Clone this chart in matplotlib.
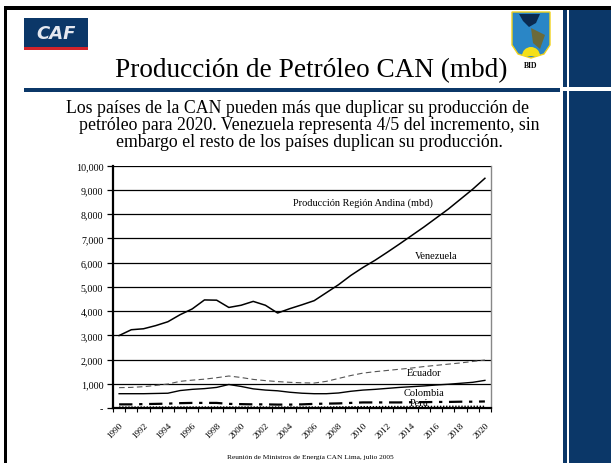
import matplotlib
matplotlib.use("Agg")
import matplotlib.pyplot as plt
from matplotlib.patches import Rectangle, Polygon, Wedge
from matplotlib.ticker import FuncFormatter
import matplotlib.transforms as mtransforms
import numpy as np

plt.rcParams['font.family'] = ['Liberation Serif', 'DejaVu Serif']

years = list(range(1990, 2021))
region_total = [2990, 3230, 3270, 3400, 3560, 3850, 4090, 4460, 4450, 4150, 4240,
                4400, 4240, 3920, 4100, 4260, 4430, 4760, 5090, 5470, 5800,
                6100, 6430, 6770, 7120, 7470, 7840, 8210, 8620, 9030, 9480]
ecuador = [840, 850, 880, 930, 990, 1100, 1150, 1190, 1250, 1320, 1260,
           1180, 1130, 1090, 1060, 1040, 1030, 1100, 1220, 1340, 1440,
           1500, 1550, 1600, 1650, 1710, 1760, 1810, 1860, 1920, 1980]
colombia = [590, 590, 590, 600, 610, 720, 770, 800, 850, 970, 890,
            790, 740, 710, 650, 610, 590, 590, 620, 690, 740,
            770, 810, 850, 880, 910, 950, 980, 1020, 1060, 1140]
peru = [150, 150, 160, 170, 180, 200, 210, 210, 210, 170, 160,
        150, 150, 140, 140, 150, 170, 180, 190, 210, 230,
        230, 230, 230, 240, 240, 250, 250, 260, 260, 270]
bolivia = [40, 40, 40, 40, 40, 40, 40, 40, 40, 40, 40,
           40, 40, 40, 40, 40, 40, 40, 45, 50, 55,
           55, 60, 60, 60, 65, 65, 70, 70, 70, 70]
y_ticks = [0, 1000, 2000, 3000, 4000, 5000, 6000, 7000, 8000, 9000, 10000]

title = "Producción de Petróleo CAN (mbd)"
subtitle_lines = ["Los países de la CAN pueden más que duplicar su producción de",
                  "petróleo para 2020. Venezuela representa 4/5 del incremento, sin",
                  "embargo el resto de los países duplican su producción."]
footer = "Reunión de Ministros de Energía CAN Lima, julio 2005"

W, H = 611, 464
NAVY = '#0b3768'
fig = plt.figure(figsize=(W / 100, H / 100), dpi=100)
fig.patch.set_facecolor('white')

# background "slide" axes in pixel coordinates
bg = fig.add_axes([0, 0, 1, 1], zorder=0)
bg.set_xlim(0, W)
bg.set_ylim(H, 0)
bg.axis('off')

def rect(x0, y0, x1, y1, color, z=1):
    bg.add_patch(Rectangle((x0, y0), x1 - x0, y1 - y0, facecolor=color,
                           edgecolor='none', zorder=z))

# frame
rect(4, 7, W, 11, 'black')
rect(4, 7, 7, H, 'black')
# right panel and vertical rule
rect(569, 11, W, H, NAVY)
rect(563, 11, 567, H, NAVY)
rect(563, 88, W, 92, 'white', z=2)
# horizontal rule under the title
rect(24, 89, 560, 93, NAVY)
# CAF logo
rect(24, 19, 88, 48, NAVY)
rect(24, 48, 88, 51, '#d2232a')
bg.text(56, 34, "CAF", color='#e4e8f0', fontsize=13, fontweight='bold',
        fontstyle='italic', family=['DejaVu Sans'], ha='center', va='center', zorder=3)
# BID logo (simplified shield)
shield = Polygon([(512, 13), (550, 13), (550, 46), (544, 55), (531, 59), (518, 55), (512, 46)],
                 closed=True, facecolor='#2a86c6', edgecolor='#f2d21b', lw=1.0, zorder=3)
bg.add_patch(shield)
bg.add_patch(Wedge((531, 57), 9, 180, 360, facecolor='#f5e01a', edgecolor='none', zorder=4))
bg.add_patch(Polygon([(519, 15), (540, 15), (536, 24), (529, 28), (523, 22)],
                     closed=True, facecolor='#0a2a50', edgecolor='none', zorder=4))
bg.add_patch(Polygon([(531, 29), (545, 36), (540, 50), (533, 44)],
                     closed=True, facecolor='#6b6a3a', edgecolor='none', zorder=4))
bg.text(531, 66, "BID", fontsize=5.5, fontweight='bold', ha='center', va='center', zorder=3)

# titles
bg.text(311, 77, title, fontsize=19.6, ha='center', va='baseline', color='black', zorder=3)
bg.text(297, 112.7, subtitle_lines[0], fontsize=12.8, ha='center', va='baseline', zorder=3)
bg.text(309, 129.8, subtitle_lines[1], fontsize=12.8, ha='center', va='baseline', zorder=3)
bg.text(309, 146.8, subtitle_lines[2], fontsize=12.8, ha='center', va='baseline', zorder=3)
bg.text(310, 458, footer, fontsize=5.3, ha='center', va='center', zorder=3)

# chart axes
left, right = 113 / W, 491 / W
bottom, top = (H - 409) / H, (H - 166.7) / H
ax = fig.add_axes([left, bottom, right - left, top - bottom], zorder=2)
ax.set_facecolor('none')
x = np.arange(len(years))

ax.plot(x, region_total, color='black', lw=1.1, zorder=4)
ax.plot(x, ecuador, color='#555555', lw=0.8, ls=(0, (5, 3)), zorder=4)
ax.plot(x, colombia, color='black', lw=1.0, zorder=4)
ax.plot(x, peru, color='black', lw=1.6, ls=(0, (6, 3, 1.5, 3)), zorder=4)
ax.plot(x, bolivia, color='black', lw=1.0, ls=(0, (1, 1.2)), zorder=4)

ax.set_xlim(-0.5, len(years) - 0.5)
ax.set_ylim(0, 10000)
ax.set_yticks(y_ticks)
ax.yaxis.set_major_formatter(FuncFormatter(lambda v, p: '-' if v == 0 else f'{v:,.0f}'))
for yt in y_ticks[1:]:
    ax.axhline(yt, color='black', lw=0.9, zorder=1)

ax.set_xticks(x[::2])
ax.set_xticklabels([str(y) for y in years[::2]], rotation=45, ha='right',
                   rotation_mode='anchor', fontsize=6.6)
shift = mtransforms.ScaledTranslation(-2 / 100, 0, fig.dpi_scale_trans)
for lbl in ax.get_xticklabels():
    lbl.set_transform(lbl.get_transform() + shift)
ax.set_xticks(np.arange(-0.5, len(years)), minor=True)
ax.tick_params(axis='x', which='major', length=0, pad=9)
ax.tick_params(axis='x', which='minor', length=3, width=0.8, direction='out', color='black')
ax.tick_params(axis='y', length=4, width=0.9, labelsize=7.2, pad=3, color='black')

ax.spines['left'].set_color('black')
ax.spines['left'].set_linewidth(1.6)
ax.spines['bottom'].set_color('black')
ax.spines['bottom'].set_linewidth(1.6)
ax.spines['right'].set_color('#888888')
ax.spines['right'].set_linewidth(1.0)
ax.spines['top'].set_visible(False)

lab = dict(fontsize=7.5, ha='center', va='center', zorder=5)
ax.text(20, 8500, "Producción Región Andina (mbd)", **lab)
ax.text(26, 6300, "Venezuela", **lab)
ax.text(25, 1450, "Ecuador", **lab)
ax.text(25, 660, "Colombia", **lab)
ax.text(24.6, 230, "Perú", **lab)

fig.savefig('out.png', dpi=100)
